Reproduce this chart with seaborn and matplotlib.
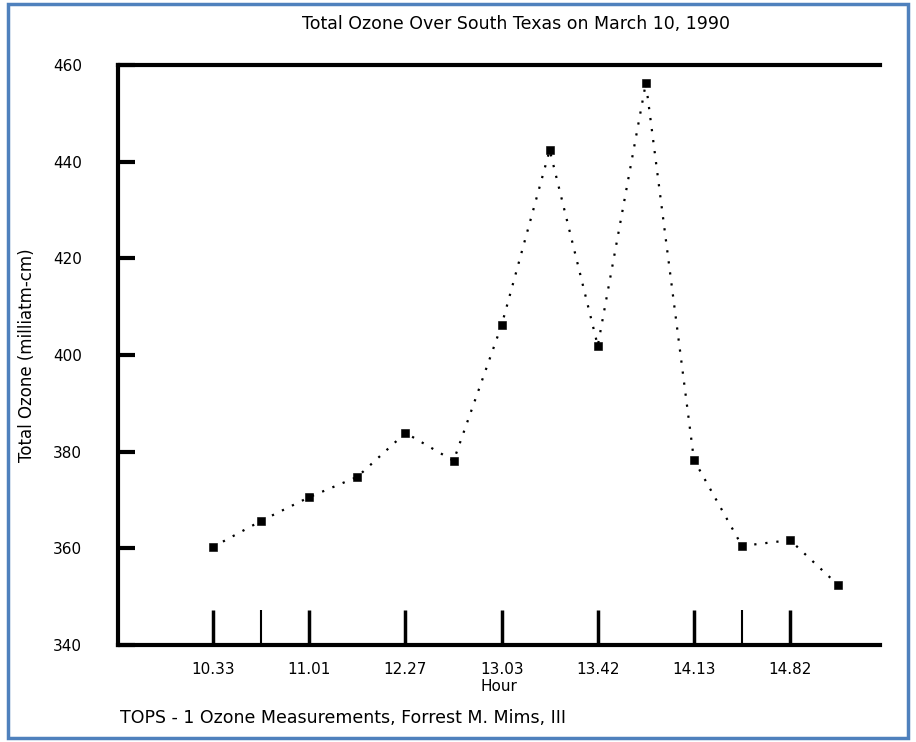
import matplotlib
matplotlib.use("Agg")
import matplotlib.pyplot as plt
import seaborn as sns
import pandas as pd
from matplotlib.patches import Rectangle

# -------- DATA --------
reading = list(range(14))
ozone = [360.3, 365.7, 370.6, 374.8, 383.9, 378.1, 406.2,
         442.4, 401.9, 456.3, 378.3, 360.5, 361.7, 352.4]
major_pos = [0, 2, 4, 6, 8, 10, 12]
major_labels = ["10.33", "11.01", "12.27", "13.03", "13.42", "14.13", "14.82"]
minor_pos = [1, 11]
y_ticks = [340, 360, 380, 400, 420, 440, 460]

df = pd.DataFrame({"reading": reading, "ozone": ozone})

sns.set_style("white")
plt.rcParams['font.family'] = ['DejaVu Sans']
plt.rcParams['text.color'] = 'black'
plt.rcParams['axes.labelcolor'] = 'black'

fig = plt.figure(figsize=(9.16, 7.42), dpi=100)
ax = fig.add_axes([0.1288, 0.1307, 0.8319, 0.7817])

# blue frame around the picture
fig.patches.append(Rectangle((0.009, 0.006), 0.982, 0.988, transform=fig.transFigure,
                             fill=False, edgecolor="#4f81bd", linewidth=2.5))

sns.lineplot(data=df, x="reading", y="ozone", ax=ax, color="black",
             linestyle=(0, (1, 4)), linewidth=1.6)
sns.scatterplot(data=df, x="reading", y="ozone", ax=ax, color="black",
                marker="s", s=26, edgecolor="black", zorder=5)

ax.set_xlim(-1.98, 13.87)
ax.set_ylim(340, 460)

ax.set_yticks(y_ticks)
ax.set_yticklabels([str(v) for v in y_ticks], fontsize=11)
ax.set_xticks(major_pos)
ax.set_xticklabels(major_labels, fontsize=11)
ax.set_xticks(minor_pos, minor=True)

ax.tick_params(axis="y", direction="in", length=12, width=3, pad=26, left=True,
               color="black", labelcolor="black")
ax.tick_params(axis="x", which="major", direction="in", length=25, width=2.5, pad=12,
               bottom=True, color="black", labelcolor="black")
ax.tick_params(axis="x", which="minor", direction="in", length=25, width=1.5,
               bottom=True, color="black")

for side in ["left", "bottom", "top"]:
    ax.spines[side].set_linewidth(3)
    ax.spines[side].set_color("black")
ax.spines["right"].set_visible(False)

ax.set_xlabel("Hour", fontsize=11, labelpad=2)
ax.set_ylabel("Total Ozone (milliatm-cm)", fontsize=12, labelpad=12)
fig.text(0.563, 0.968, "Total Ozone Over South Texas on March 10, 1990",
         ha="center", va="center", fontsize=12.5)
fig.text(0.131, 0.032, "TOPS - 1 Ozone Measurements, Forrest M. Mims, III",
         ha="left", va="center", fontsize=12.5)

fig.savefig("out.png", dpi=100)
